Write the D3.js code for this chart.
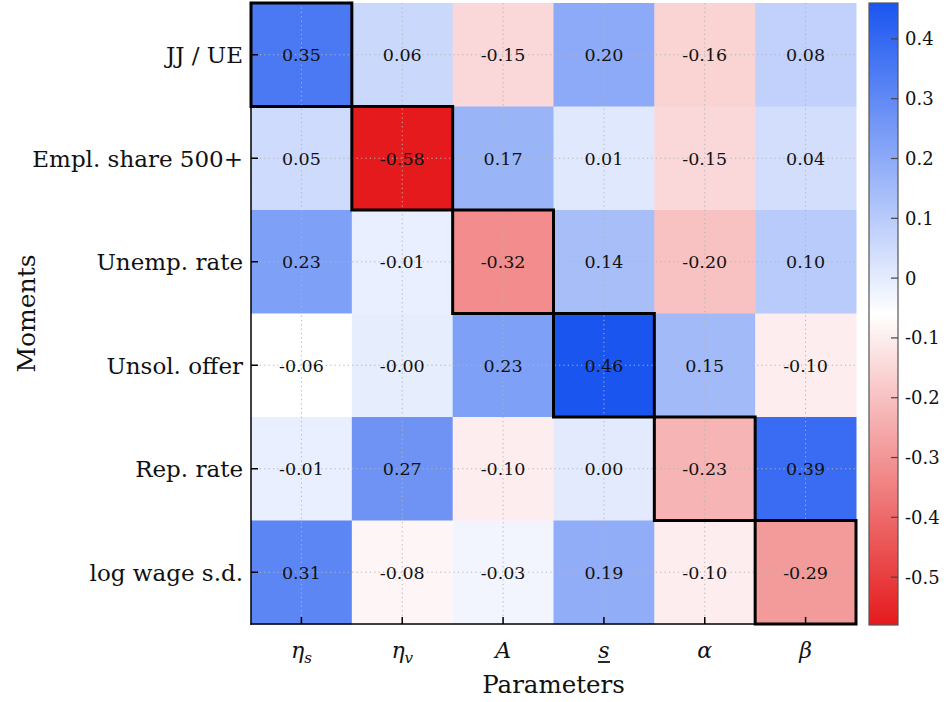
<!DOCTYPE html>
<html>
<head>
<meta charset="utf-8">
<script src="https://cdn.jsdelivr.net/npm/d3@7"></script>
<style>
  html, body { margin: 0; padding: 0; background: #fff; }
  svg { display: block; font-family: "DejaVu Serif", serif; }
</style>
</head>
<body>
<svg id="chart" width="947" height="702"></svg>
<script>
// Sensitivity of moments (rows) to parameters (columns)
const moments = ["JJ / UE", "Empl. share 500+", "Unemp. rate", "Unsol. offer", "Rep. rate", "log wage s.d."];
const params = ["eta_s", "eta_v", "A", "s", "alpha", "beta"];

const rowJJUE      = [0.35, 0.06, -0.15, 0.20, -0.16, 0.08];
const rowEmpl500   = [0.05, -0.58, 0.17, 0.01, -0.15, 0.04];
const rowUnemp     = [0.23, -0.01, -0.32, 0.14, -0.20, 0.10];
const rowUnsol     = [-0.06, -0.004, 0.23, 0.46, 0.15, -0.10];
const rowRep       = [-0.01, 0.27, -0.10, 0.003, -0.23, 0.39];
const rowLogWageSd = [0.31, -0.08, -0.03, 0.19, -0.10, -0.29];
const matrix = [rowJJUE, rowEmpl500, rowUnemp, rowUnsol, rowRep, rowLogWageSd];

const colorbarTicks = [0.4, 0.3, 0.2, 0.1, 0, -0.1, -0.2, -0.3, -0.4, -0.5];

const svg = d3.select("#chart");

const plot = { left: 251, right: 856, top: 3, bottom: 624 };
const cbar = { left: 869, right: 898, top: 3, bottom: 625 };

const cells = [];
matrix.forEach((row, i) => row.forEach((v, j) => cells.push({ i, j, v })));

const vmin = d3.min(cells, d => d.v);
const vmax = d3.max(cells, d => d.v);
const vmid = (vmin + vmax) / 2;

const color = d3.scaleLinear()
  .domain([vmin, vmid, vmax])
  .range(["#e41a1c", "#ffffff", "#1a55f0"])
  .interpolate(d3.interpolateRgb);

const x = d3.scaleBand().domain(d3.range(params.length)).range([plot.left, plot.right]);
const y = d3.scaleBand().domain(d3.range(moments.length)).range([plot.top, plot.bottom]);

// heatmap cells
svg.append("g").selectAll("rect").data(cells).join("rect")
  .attr("x", d => x(d.j))
  .attr("y", d => y(d.i))
  .attr("width", x.bandwidth() + 0.5)
  .attr("height", y.bandwidth() + 0.5)
  .attr("fill", d => color(d.v));

// dotted grid through cell centres
const grid = svg.append("g")
  .attr("stroke", "#b4b4b4")
  .attr("stroke-width", 1)
  .attr("stroke-dasharray", "1.2,3.2");
grid.selectAll("line.v").data(d3.range(params.length)).join("line")
  .attr("class", "v")
  .attr("x1", j => x(j) + x.bandwidth() / 2).attr("x2", j => x(j) + x.bandwidth() / 2)
  .attr("y1", plot.top).attr("y2", plot.bottom);
grid.selectAll("line.h").data(d3.range(moments.length)).join("line")
  .attr("class", "h")
  .attr("y1", i => y(i) + y.bandwidth() / 2).attr("y2", i => y(i) + y.bandwidth() / 2)
  .attr("x1", plot.left).attr("x2", plot.right);

// outlined diagonal cells
svg.append("g").selectAll("rect").data(cells.filter(d => d.i === d.j)).join("rect")
  .attr("x", d => x(d.j))
  .attr("y", d => y(d.i))
  .attr("width", x.bandwidth())
  .attr("height", y.bandwidth())
  .attr("fill", "none")
  .attr("stroke", "#000")
  .attr("stroke-width", 3);

// value annotations
svg.append("g").selectAll("text").data(cells).join("text")
  .attr("x", d => x(d.j) + x.bandwidth() / 2)
  .attr("y", d => y(d.i) + y.bandwidth() / 2)
  .attr("dy", "0.36em")
  .attr("text-anchor", "middle")
  .attr("font-size", 17.5)
  .attr("fill", "#111")
  .text(d => d.v.toFixed(2));

// axes: left and bottom spines with inward ticks
const axes = svg.append("g").attr("stroke", "#000");
axes.append("line")
  .attr("x1", plot.left).attr("x2", plot.left)
  .attr("y1", plot.top).attr("y2", plot.bottom + 0.75)
  .attr("stroke-width", 1.5);
axes.append("line")
  .attr("x1", plot.left - 0.75).attr("x2", plot.right)
  .attr("y1", plot.bottom).attr("y2", plot.bottom)
  .attr("stroke-width", 1.5);
axes.selectAll("line.yt").data(d3.range(moments.length)).join("line")
  .attr("class", "yt")
  .attr("x1", plot.left).attr("x2", plot.left + 7)
  .attr("y1", i => y(i) + y.bandwidth() / 2).attr("y2", i => y(i) + y.bandwidth() / 2)
  .attr("stroke-width", 1.5);
axes.selectAll("line.xt").data(d3.range(params.length)).join("line")
  .attr("class", "xt")
  .attr("y1", plot.bottom).attr("y2", plot.bottom - 7)
  .attr("x1", j => x(j) + x.bandwidth() / 2).attr("x2", j => x(j) + x.bandwidth() / 2)
  .attr("stroke-width", 1.5);

// row labels
svg.append("g").selectAll("text").data(moments).join("text")
  .attr("x", plot.left - 8)
  .attr("y", (m, i) => y(i) + y.bandwidth() / 2)
  .attr("dy", "0.36em")
  .attr("text-anchor", "end")
  .attr("font-size", 23)
  .attr("fill", "#111")
  .text(m => m);

// column labels (math symbols)
const symbols = {
  eta_s: { base: "\u03b7", sub: "s" },
  eta_v: { base: "\u03b7", sub: "v" },
  A: { base: "A" },
  s: { base: "s", underline: true },
  alpha: { base: "\u03b1" },
  beta: { base: "\u03b2" }
};
const xl = svg.append("g").selectAll("text").data(params).join("text")
  .attr("x", (p, j) => x(j) + x.bandwidth() / 2)
  .attr("y", 658)
  .attr("text-anchor", "middle")
  .attr("font-size", 22)
  .attr("font-style", "italic")
  .attr("fill", "#111");
xl.each(function (p) {
  const s = symbols[p];
  const t = d3.select(this);
  t.append("tspan").text(s.base);
  if (s.sub) t.append("tspan").attr("font-size", 15).attr("dy", 5).text(s.sub);
});
// underline for the s parameter
const sIdx = params.indexOf("s");
svg.append("line")
  .attr("x1", x(sIdx) + x.bandwidth() / 2 - 6).attr("x2", x(sIdx) + x.bandwidth() / 2 + 6)
  .attr("y1", 662).attr("y2", 662)
  .attr("stroke", "#111").attr("stroke-width", 1.8);

// axis titles
svg.append("text")
  .attr("x", (plot.left + plot.right) / 2)
  .attr("y", 693)
  .attr("text-anchor", "middle")
  .attr("font-size", 24.5)
  .attr("fill", "#111")
  .text("Parameters");
svg.append("text")
  .attr("transform", `translate(35,${(plot.top + plot.bottom) / 2}) rotate(-90)`)
  .attr("text-anchor", "middle")
  .attr("font-size", 25)
  .attr("fill", "#111")
  .text("Moments");

// colorbar
const cy = d3.scaleLinear().domain([vmin, vmax]).range([cbar.bottom, cbar.top]);
const grad = svg.append("defs").append("linearGradient")
  .attr("id", "cbgrad").attr("x1", 0).attr("x2", 0).attr("y1", 1).attr("y2", 0);
grad.selectAll("stop").data(d3.range(0, 1.0001, 0.05)).join("stop")
  .attr("offset", t => t)
  .attr("stop-color", t => color(vmin + t * (vmax - vmin)));
svg.append("rect")
  .attr("x", cbar.left).attr("y", cbar.top)
  .attr("width", cbar.right - cbar.left).attr("height", cbar.bottom - cbar.top)
  .attr("fill", "url(#cbgrad)")
  .attr("stroke", "#555").attr("stroke-width", 1.2);
const cbt = svg.append("g");
cbt.selectAll("line").data(colorbarTicks).join("line")
  .attr("x1", cbar.right).attr("x2", cbar.right - 7)
  .attr("y1", v => cy(v)).attr("y2", v => cy(v))
  .attr("stroke", "#444").attr("stroke-width", 1.2);
cbt.selectAll("text").data(colorbarTicks).join("text")
  .attr("x", cbar.right + 7)
  .attr("y", v => cy(v))
  .attr("dy", "0.36em")
  .attr("font-size", 18)
  .attr("fill", "#111")
  .text(v => `${v}`);
</script>
</body>
</html>
